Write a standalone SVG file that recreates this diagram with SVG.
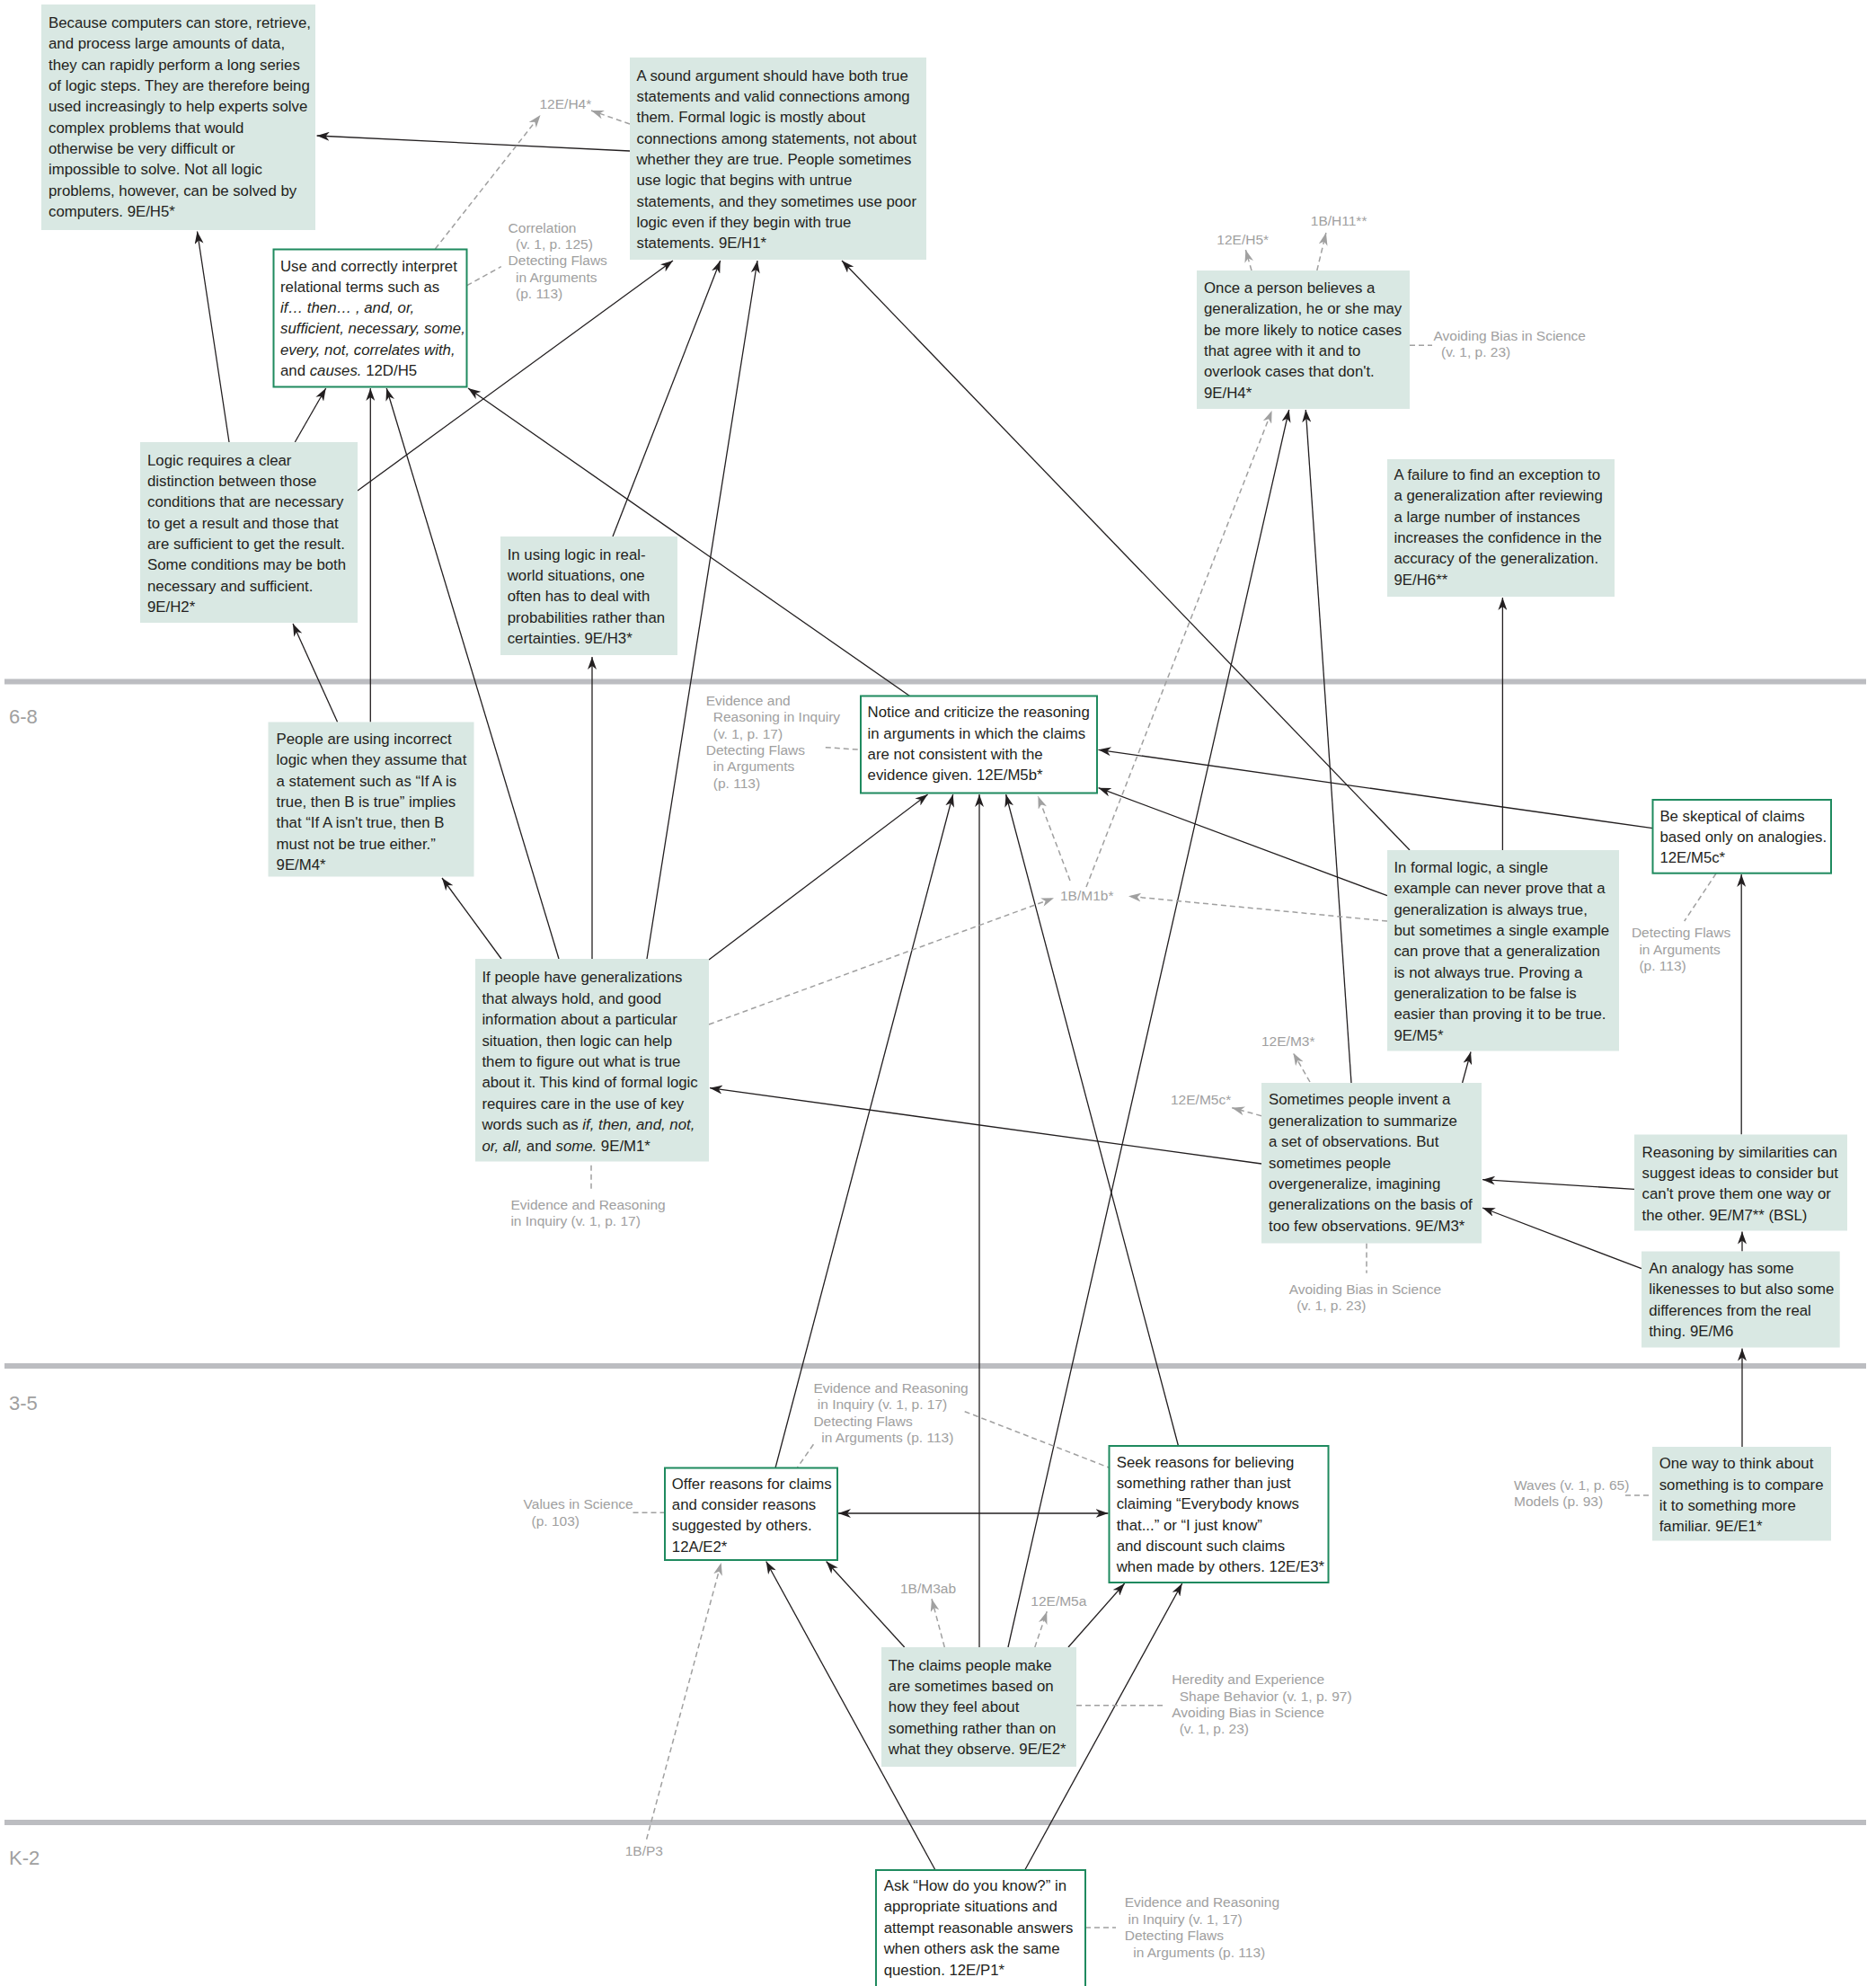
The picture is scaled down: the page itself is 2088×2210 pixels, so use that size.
<svg xmlns="http://www.w3.org/2000/svg" width="2088" height="2210" viewBox="0 0 2088 2210">
<style>
.n{fill:#d9e8e3}
.w{fill:#fff;stroke:#1f8a5f;stroke-width:2}
.t{font-family:"Liberation Sans",Arial,sans-serif;font-size:16.8px;fill:#231f20}
.i{font-style:italic}
.l{font-family:"Liberation Sans",Arial,sans-serif;font-size:15.5px;fill:#a0a0a0}
.b{font-family:"Liberation Sans",Arial,sans-serif;font-size:22px;fill:#a0a0a0}
.sep{stroke:#bcbdc1;stroke-width:6}
.a{stroke:#231f20;stroke-width:1.3;fill:none;marker-end:url(#ah)}
.a2{stroke:#231f20;stroke-width:1.3;fill:none;marker-end:url(#ah);marker-start:url(#ahs)}
.d{stroke:#a0a0a0;stroke-width:1.5;stroke-dasharray:6 4;fill:none}
.da{stroke:#a0a0a0;stroke-width:1.5;stroke-dasharray:6 4;fill:none;marker-end:url(#gh)}
</style>
<defs>
<marker id="ah" viewBox="0 0 14 10" refX="14" refY="5" markerWidth="14" markerHeight="10" markerUnits="userSpaceOnUse" orient="auto"><path d="M0,0 L14,5 L0,10 L4,5 z" fill="#231f20"/></marker>
<marker id="ahs" viewBox="0 0 14 10" refX="0" refY="5" markerWidth="14" markerHeight="10" markerUnits="userSpaceOnUse" orient="auto"><path d="M14,0 L0,5 L14,10 L10,5 z" fill="#231f20"/></marker>
<marker id="gh" viewBox="0 0 14 10" refX="14" refY="5" markerWidth="14" markerHeight="10" markerUnits="userSpaceOnUse" orient="auto"><path d="M0,0 L14,5 L0,10 L4,5 z" fill="#a0a0a0"/></marker>
</defs>
<rect width="2088" height="2210" fill="#fff"/>

<g id="bands">
<line class="sep" x1="5" y1="758.5" x2="2077" y2="758.5"/>
<line class="sep" x1="5" y1="1520" x2="2077" y2="1520"/>
<line class="sep" x1="5" y1="2028" x2="2077" y2="2028"/>
<text class="b" x="10" y="805">6-8</text>
<text class="b" x="10" y="1569">3-5</text>
<text class="b" x="10" y="2075">K-2</text>
</g>

<g id="connectors">
<line class="a" x1="701" y1="168" x2="352.6" y2="151"/>
<line class="a" x1="255" y1="492" x2="219.5" y2="257.5"/>
<line class="a" x1="328.3" y1="492" x2="362.7" y2="432"/>
<line class="a" x1="398" y1="546" x2="749" y2="290"/>
<line class="a" x1="375.6" y1="803.5" x2="326" y2="694"/>
<line class="a" x1="412.3" y1="803.5" x2="412.3" y2="432"/>
<line class="a" x1="622" y1="1067" x2="430.2" y2="432"/>
<line class="a" x1="558" y1="1067" x2="492" y2="977"/>
<line class="a" x1="659" y1="1067" x2="659" y2="731"/>
<line class="a" x1="720" y1="1067" x2="843" y2="290"/>
<line class="a" x1="682" y1="597" x2="801.7" y2="290"/>
<line class="a" x1="1012.5" y1="774.5" x2="521" y2="432"/>
<line class="a" x1="789" y1="1068" x2="1032.6" y2="884"/>
<line class="a" x1="863" y1="1633.5" x2="1060.7" y2="884"/>
<line class="a" x1="1090" y1="1833" x2="1090" y2="884"/>
<line class="a" x1="1311.5" y1="1609" x2="1119.6" y2="884"/>
<line class="a" x1="1839.5" y1="921.7" x2="1222.5" y2="834.3"/>
<line class="a" x1="1544" y1="996.7" x2="1222.5" y2="876.7"/>
<line class="a" x1="1569" y1="946" x2="937" y2="290"/>
<line class="a" x1="1672.4" y1="946" x2="1672.4" y2="665"/>
<line class="a" x1="1122" y1="1833" x2="1434.7" y2="456"/>
<line class="a" x1="1504" y1="1205" x2="1453.3" y2="456"/>
<line class="a" x1="1627.6" y1="1205" x2="1637" y2="1170.5"/>
<line class="a" x1="1404" y1="1295" x2="790" y2="1210.7"/>
<line class="a" x1="1819" y1="1323.3" x2="1650" y2="1312.7"/>
<line class="a" x1="1827" y1="1411.7" x2="1650" y2="1344"/>
<line class="a" x1="1938.2" y1="1262.5" x2="1938.2" y2="973"/>
<line class="a" x1="1939" y1="1392.5" x2="1939" y2="1370.5"/>
<line class="a" x1="1939" y1="1610" x2="1939" y2="1500.5"/>
<line class="a2" x1="933" y1="1684" x2="1233.5" y2="1684"/>
<line class="a" x1="1006.7" y1="1833" x2="919.6" y2="1737.5"/>
<line class="a" x1="1041" y1="2081" x2="852.7" y2="1737.5"/>
<line class="a" x1="1189" y1="1833" x2="1251.7" y2="1762"/>
<line class="a" x1="1140.7" y1="2081" x2="1315.7" y2="1762"/>

<line class="da" x1="701" y1="138" x2="658" y2="123"/>
<line class="da" x1="484.4" y1="277" x2="601.5" y2="128"/>
<line class="da" x1="1393" y1="301" x2="1386.4" y2="278"/>
<line class="da" x1="1465.8" y1="301" x2="1475.9" y2="259"/>
<line class="da" x1="789" y1="1140" x2="1173" y2="999.3"/>
<line class="da" x1="1544" y1="1025" x2="1256" y2="997.3"/>
<line class="da" x1="1191" y1="980" x2="1155.4" y2="886"/>
<line class="da" x1="1209" y1="987" x2="1415.6" y2="457"/>
<line class="da" x1="1458" y1="1204" x2="1439.4" y2="1171.7"/>
<line class="da" x1="1404" y1="1241.7" x2="1371.2" y2="1232.7"/>
<line class="da" x1="1051.3" y1="1833" x2="1037" y2="1779.3"/>
<line class="da" x1="1151.8" y1="1833" x2="1165.2" y2="1793.3"/>
<line class="da" x1="719.6" y1="2046.7" x2="802.7" y2="1739"/>

<line class="d" x1="519.7" y1="317.7" x2="557.8" y2="296.7"/>
<line class="d" x1="1569" y1="384.3" x2="1594" y2="384.3"/>
<line class="d" x1="918.8" y1="831.7" x2="958" y2="834.3"/>
<line class="d" x1="1910" y1="972" x2="1874.7" y2="1025"/>
<line class="d" x1="658" y1="1296.7" x2="658" y2="1322.7"/>
<line class="d" x1="1521" y1="1383.5" x2="1521" y2="1416.7"/>
<line class="d" x1="905.4" y1="1607.3" x2="887.5" y2="1633"/>
<line class="d" x1="1073.7" y1="1570.7" x2="1234" y2="1633"/>
<line class="d" x1="704.5" y1="1683.3" x2="740" y2="1683.3"/>
<line class="d" x1="1809" y1="1664" x2="1839" y2="1664"/>
<line class="d" x1="1198" y1="1897.7" x2="1296.5" y2="1897.7"/>
<line class="d" x1="1208" y1="2145" x2="1242" y2="2145"/>
</g>

<g id="labels">
<text class="l" x="600.5" y="121">12E/H4*</text>
<text class="l"><tspan x="565.6" y="258.5">Correlation</tspan><tspan x="574" y="277">(v. 1, p. 125)</tspan><tspan x="565.6" y="295">Detecting Flaws</tspan><tspan x="574" y="313.5">in Arguments</tspan><tspan x="574" y="332">(p. 113)</tspan></text>
<text class="l" x="1354.3" y="272">12E/H5*</text>
<text class="l" x="1458.8" y="251">1B/H11**</text>
<text class="l"><tspan x="1595.5" y="379">Avoiding Bias in Science</tspan><tspan x="1604" y="397">(v. 1, p. 23)</tspan></text>
<text class="l"><tspan x="785.7" y="785">Evidence and</tspan><tspan x="793.8" y="803.3">Reasoning in Inquiry</tspan><tspan x="793.8" y="821.7">(v. 1, p. 17)</tspan><tspan x="785.7" y="840">Detecting Flaws</tspan><tspan x="793.8" y="858.3">in Arguments</tspan><tspan x="793.8" y="876.7">(p. 113)</tspan></text>
<text class="l" x="1180" y="1002">1B/M1b*</text>
<text class="l"><tspan x="1815.9" y="1043.3">Detecting Flaws</tspan><tspan x="1824.4" y="1061.7">in Arguments</tspan><tspan x="1824.4" y="1080">(p. 113)</tspan></text>
<text class="l" x="1404" y="1164">12E/M3*</text>
<text class="l" x="1303" y="1229">12E/M5c*</text>
<text class="l"><tspan x="568.4" y="1345.5">Evidence and Reasoning</tspan><tspan x="568.4" y="1364">in Inquiry (v. 1, p. 17)</tspan></text>
<text class="l"><tspan x="1434.7" y="1439.5">Avoiding Bias in Science</tspan><tspan x="1443.2" y="1458">(v. 1, p. 23)</tspan></text>
<text class="l"><tspan x="905.4" y="1550">Evidence and Reasoning</tspan><tspan x="909.8" y="1568.3">in Inquiry (v. 1, p. 17)</tspan><tspan x="905.4" y="1586.7">Detecting Flaws</tspan><tspan x="914.3" y="1605">in Arguments (p. 113)</tspan></text>
<text class="l"><tspan x="582.6" y="1678.5">Values in Science</tspan><tspan x="591.5" y="1697.5">(p. 103)</tspan></text>
<text class="l"><tspan x="1685" y="1657.5">Waves (v. 1, p. 65)</tspan><tspan x="1685" y="1676">Models (p. 93)</tspan></text>
<text class="l" x="1002" y="1773">1B/M3ab</text>
<text class="l" x="1147.3" y="1787">12E/M5a</text>
<text class="l"><tspan x="1304.3" y="1874.3">Heredity and Experience</tspan><tspan x="1312.7" y="1892.7">Shape Behavior (v. 1, p. 97)</tspan><tspan x="1304.3" y="1911">Avoiding Bias in Science</tspan><tspan x="1312.7" y="1929.3">(v. 1, p. 23)</tspan></text>
<text class="l" x="695.7" y="2065">1B/P3</text>
<text class="l"><tspan x="1251.7" y="2121.7">Evidence and Reasoning</tspan><tspan x="1255.5" y="2140.7">in Inquiry (v. 1, 17)</tspan><tspan x="1251.7" y="2159">Detecting Flaws</tspan><tspan x="1261.2" y="2177.7">in Arguments (p. 113)</tspan></text>
</g>

<g id="n-9E-H5"><rect class="n" x="46" y="5" width="305" height="251"/>
<text class="t"><tspan x="54" y="31">Because computers can store, retrieve,</tspan><tspan x="54" dy="23.35">and process large amounts of data,</tspan><tspan x="54" dy="23.35">they can rapidly perform a long series</tspan><tspan x="54" dy="23.35">of logic steps. They are therefore being</tspan><tspan x="54" dy="23.35">used increasingly to help experts solve</tspan><tspan x="54" dy="23.35">complex problems that would</tspan><tspan x="54" dy="23.35">otherwise be very difficult or</tspan><tspan x="54" dy="23.35">impossible to solve. Not all logic</tspan><tspan x="54" dy="23.35">problems, however, can be solved by</tspan><tspan x="54" dy="23.35">computers. 9E/H5*</tspan></text></g>

<g id="n-9E-H1"><rect class="n" x="701" y="64" width="330" height="225"/>
<text class="t"><tspan x="708.5" y="89.5">A sound argument should have both true</tspan><tspan x="708.5" dy="23.35">statements and valid connections among</tspan><tspan x="708.5" dy="23.35">them. Formal logic is mostly about</tspan><tspan x="708.5" dy="23.35">connections among statements, not about</tspan><tspan x="708.5" dy="23.35">whether they are true. People sometimes</tspan><tspan x="708.5" dy="23.35">use logic that begins with untrue</tspan><tspan x="708.5" dy="23.35">statements, and they sometimes use poor</tspan><tspan x="708.5" dy="23.35">logic even if they begin with true</tspan><tspan x="708.5" dy="23.35">statements. 9E/H1*</tspan></text></g>

<g id="n-12D-H5"><rect class="w" x="304.5" y="277.5" width="215" height="153"/>
<text class="t"><tspan x="312" y="301.5">Use and correctly interpret</tspan><tspan x="312" dy="23.3">relational terms such as</tspan><tspan x="312" dy="23.3" class="i">if… then… , and, or,</tspan><tspan x="312" dy="23.3" class="i">sufficient, necessary, some,</tspan><tspan x="312" dy="23.3" class="i">every, not, correlates with,</tspan><tspan x="312" dy="23.3">and <tspan class="i">causes.</tspan> 12D/H5</tspan></text></g>

<g id="n-9E-H4"><rect class="n" x="1332" y="301" width="237" height="154"/>
<text class="t"><tspan x="1340" y="326">Once a person believes a</tspan><tspan x="1340" dy="23.3">generalization, he or she may</tspan><tspan x="1340" dy="23.3">be more likely to notice cases</tspan><tspan x="1340" dy="23.3">that agree with it and to</tspan><tspan x="1340" dy="23.3">overlook cases that don't.</tspan><tspan x="1340" dy="23.3">9E/H4*</tspan></text></g>

<g id="n-9E-H6"><rect class="n" x="1544" y="511" width="253" height="153"/>
<text class="t"><tspan x="1551.5" y="534">A failure to find an exception to</tspan><tspan x="1551.5" dy="23.3">a generalization after reviewing</tspan><tspan x="1551.5" dy="23.3">a large number of instances</tspan><tspan x="1551.5" dy="23.3">increases the confidence in the</tspan><tspan x="1551.5" dy="23.3">accuracy of the generalization.</tspan><tspan x="1551.5" dy="23.3">9E/H6**</tspan></text></g>

<g id="n-9E-H2"><rect class="n" x="156" y="492" width="242" height="201"/>
<text class="t"><tspan x="164" y="517.7">Logic requires a clear</tspan><tspan x="164" dy="23.3">distinction between those</tspan><tspan x="164" dy="23.3">conditions that are necessary</tspan><tspan x="164" dy="23.3">to get a result and those that</tspan><tspan x="164" dy="23.3">are sufficient to get the result.</tspan><tspan x="164" dy="23.3">Some conditions may be both</tspan><tspan x="164" dy="23.3">necessary and sufficient.</tspan><tspan x="164" dy="23.3">9E/H2*</tspan></text></g>

<g id="n-9E-H3"><rect class="n" x="557" y="597" width="197" height="132"/>
<text class="t"><tspan x="564.7" y="622.7">In using logic in real-</tspan><tspan x="564.7" dy="23.3">world situations, one</tspan><tspan x="564.7" dy="23.3">often has to deal with</tspan><tspan x="564.7" dy="23.3">probabilities rather than</tspan><tspan x="564.7" dy="23.3">certainties. 9E/H3*</tspan></text></g>

<g id="n-9E-M4"><rect class="n" x="298.5" y="803.5" width="229" height="172"/>
<text class="t"><tspan x="307.6" y="828">People are using incorrect</tspan><tspan x="307.6" dy="23.3">logic when they assume that</tspan><tspan x="307.6" dy="23.3">a statement such as “If A is</tspan><tspan x="307.6" dy="23.3">true, then B is true” implies</tspan><tspan x="307.6" dy="23.3">that “If A isn't true, then B</tspan><tspan x="307.6" dy="23.3">must not be true either.”</tspan><tspan x="307.6" dy="23.3">9E/M4*</tspan></text></g>

<g id="n-12E-M5b"><rect class="w" x="958" y="774.5" width="263" height="108"/>
<text class="t"><tspan x="965.6" y="798.3">Notice and criticize the reasoning</tspan><tspan x="965.6" dy="23.3">in arguments in which the claims</tspan><tspan x="965.6" dy="23.3">are not consistent with the</tspan><tspan x="965.6" dy="23.3">evidence given. 12E/M5b*</tspan></text></g>

<g id="n-12E-M5c"><rect class="w" x="1839.5" y="890" width="198.5" height="81.7"/>
<text class="t"><tspan x="1847.4" y="913.7">Be skeptical of claims</tspan><tspan x="1847.4" dy="23.3">based only on analogies.</tspan><tspan x="1847.4" dy="23.3">12E/M5c*</tspan></text></g>

<g id="n-9E-M5"><rect class="n" x="1544" y="946" width="258" height="223.5"/>
<text class="t"><tspan x="1551.4" y="971">In formal logic, a single</tspan><tspan x="1551.4" dy="23.35">example can never prove that a</tspan><tspan x="1551.4" dy="23.35">generalization is always true,</tspan><tspan x="1551.4" dy="23.35">but sometimes a single example</tspan><tspan x="1551.4" dy="23.35">can prove that a generalization</tspan><tspan x="1551.4" dy="23.35">is not always true. Proving a</tspan><tspan x="1551.4" dy="23.35">generalization to be false is</tspan><tspan x="1551.4" dy="23.35">easier than proving it to be true.</tspan><tspan x="1551.4" dy="23.35">9E/M5*</tspan></text></g>

<g id="n-9E-M1"><rect class="n" x="529" y="1067" width="260" height="225.5"/>
<text class="t"><tspan x="536.4" y="1093.3">If people have generalizations</tspan><tspan x="536.4" dy="23.4">that always hold, and good</tspan><tspan x="536.4" dy="23.4">information about a particular</tspan><tspan x="536.4" dy="23.4">situation, then logic can help</tspan><tspan x="536.4" dy="23.4">them to figure out what is true</tspan><tspan x="536.4" dy="23.4">about it. This kind of formal logic</tspan><tspan x="536.4" dy="23.4">requires care in the use of key</tspan><tspan x="536.4" dy="23.4">words such as <tspan class="i">if, then, and, not,</tspan></tspan><tspan x="536.4" dy="23.4"><tspan class="i">or, all,</tspan> and <tspan class="i">some.</tspan> 9E/M1*</tspan></text></g>

<g id="n-9E-M3"><rect class="n" x="1404" y="1205" width="245" height="178.5"/>
<text class="t"><tspan x="1412" y="1229.3">Sometimes people invent a</tspan><tspan x="1412" dy="23.4">generalization to summarize</tspan><tspan x="1412" dy="23.4">a set of observations. But</tspan><tspan x="1412" dy="23.4">sometimes people</tspan><tspan x="1412" dy="23.4">overgeneralize, imagining</tspan><tspan x="1412" dy="23.4">generalizations on the basis of</tspan><tspan x="1412" dy="23.4">too few observations. 9E/M3*</tspan></text></g>

<g id="n-9E-M7"><rect class="n" x="1819" y="1262.5" width="237" height="107"/>
<text class="t"><tspan x="1827.6" y="1287.7">Reasoning by similarities can</tspan><tspan x="1827.6" dy="23.3">suggest ideas to consider but</tspan><tspan x="1827.6" dy="23.3">can't prove them one way or</tspan><tspan x="1827.6" dy="23.3">the other. 9E/M7** (BSL)</tspan></text></g>

<g id="n-9E-M6"><rect class="n" x="1827" y="1392.5" width="220.7" height="107"/>
<text class="t"><tspan x="1835.2" y="1417">An analogy has some</tspan><tspan x="1835.2" dy="23.3">likenesses to but also some</tspan><tspan x="1835.2" dy="23.3">differences from the real</tspan><tspan x="1835.2" dy="23.3">thing. 9E/M6</tspan></text></g>

<g id="n-9E-E1"><rect class="n" x="1839" y="1610" width="199" height="104.5"/>
<text class="t"><tspan x="1846.7" y="1634.3">One way to think about</tspan><tspan x="1846.7" dy="23.3">something is to compare</tspan><tspan x="1846.7" dy="23.3">it to something more</tspan><tspan x="1846.7" dy="23.3">familiar. 9E/E1*</tspan></text></g>

<g id="n-12A-E2"><rect class="w" x="740" y="1633.5" width="192" height="102.5"/>
<text class="t"><tspan x="747.8" y="1656.7">Offer reasons for claims</tspan><tspan x="747.8" dy="23.3">and consider reasons</tspan><tspan x="747.8" dy="23.3">suggested by others.</tspan><tspan x="747.8" dy="23.3">12A/E2*</tspan></text></g>

<g id="n-12E-E3"><rect class="w" x="1234.5" y="1609" width="244" height="152"/>
<text class="t"><tspan x="1242.7" y="1632.7">Seek reasons for believing</tspan><tspan x="1242.7" dy="23.3">something rather than just</tspan><tspan x="1242.7" dy="23.3">claiming “Everybody knows</tspan><tspan x="1242.7" dy="23.3">that...” or “I just know”</tspan><tspan x="1242.7" dy="23.3">and discount such claims</tspan><tspan x="1242.7" dy="23.3">when made by others. 12E/E3*</tspan></text></g>

<g id="n-9E-E2"><rect class="n" x="981" y="1833" width="217" height="133"/>
<text class="t"><tspan x="988.8" y="1858.7">The claims people make</tspan><tspan x="988.8" dy="23.3">are sometimes based on</tspan><tspan x="988.8" dy="23.3">how they feel about</tspan><tspan x="988.8" dy="23.3">something rather than on</tspan><tspan x="988.8" dy="23.3">what they observe.  9E/E2*</tspan></text></g>

<g id="n-12E-P1"><rect class="w" x="975" y="2081" width="233" height="140"/>
<text class="t"><tspan x="983.7" y="2104">Ask “How do you know?” in</tspan><tspan x="983.7" dy="23.4">appropriate situations and</tspan><tspan x="983.7" dy="23.4">attempt reasonable answers</tspan><tspan x="983.7" dy="23.4">when others ask the same</tspan><tspan x="983.7" dy="23.4">question. 12E/P1*</tspan></text></g>
</svg>
